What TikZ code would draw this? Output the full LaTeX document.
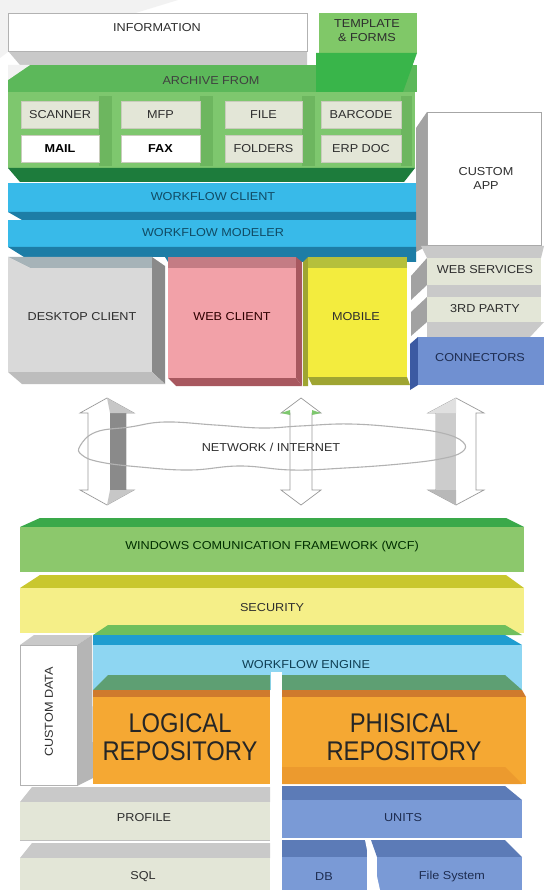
\documentclass[tikz,border=0pt]{standalone}
\usepackage{fontspec}
\setmainfont{Liberation Sans}
\newfontfamily\wf[FakeStretch=1.1]{Liberation Sans}
\newfontfamily\wfn[FakeStretch=0.88]{Liberation Sans}
\definecolor{txt}{HTML}{2E2E2E}
\definecolor{grA}{HTML}{5CB85A}
\definecolor{grB}{HTML}{7EC76E}
\definecolor{grC}{HTML}{1D7C3C}
\definecolor{grS}{HTML}{6DB65F}
\definecolor{tmA}{HTML}{80C868}
\definecolor{tmB}{HTML}{39B54A}
\definecolor{beige}{HTML}{E3E6D7}
\definecolor{beigeL}{HTML}{C9CCBC}
\definecolor{cyA}{HTML}{38BAE9}
\definecolor{cyB}{HTML}{1D7DA6}
\definecolor{dkA}{HTML}{D9D9D9}
\definecolor{dkT}{HTML}{A6B3B8}
\definecolor{dkS}{HTML}{8A8A8A}
\definecolor{dkB}{HTML}{BDBDBD}
\definecolor{wbA}{HTML}{F2A1A8}
\definecolor{wbT}{HTML}{C47C84}
\definecolor{wbS}{HTML}{A8585F}
\definecolor{mbA}{HTML}{F3EC3E}
\definecolor{mbT}{HTML}{B5C03C}
\definecolor{mbS}{HTML}{9FA532}
\definecolor{gyT}{HTML}{C9C9C9}
\definecolor{gyS}{HTML}{A2A2A2}
\definecolor{cnA}{HTML}{7090D1}
\definecolor{cnS}{HTML}{3C5AA2}
\definecolor{wcT}{HTML}{3AA94A}
\definecolor{wcA}{HTML}{8CC86C}
\definecolor{scT}{HTML}{C9C72E}
\definecolor{scA}{HTML}{F5EF88}
\definecolor{stG}{HTML}{6FBF5C}
\definecolor{enT}{HTML}{1E9DD0}
\definecolor{enA}{HTML}{8ED6F2}
\definecolor{lgT}{HTML}{5E9F73}
\definecolor{orD}{HTML}{CF7A2D}
\definecolor{orA}{HTML}{F5A833}
\definecolor{orM}{HTML}{EC9A2E}
\definecolor{unT}{HTML}{5C7BB7}
\definecolor{unA}{HTML}{7A9AD6}
\definecolor{arr}{HTML}{9A9A9A}
\begin{document}
\begin{tikzpicture}[x=1pt,y=-1pt,
  lbl/.style={font=\wf\fontsize{11.5}{14}\selectfont, text=txt, inner sep=0pt, align=center},
  big/.style={font=\wfn\fontsize{27}{28.5}\selectfont, text=black!85, inner sep=0pt, align=center},
  box/.style={fill=beige, draw=beigeL, line width=0.6pt}]
\fill[white] (0,0) rectangle (544,890);
\path[use as bounding box] (0,0) rectangle (544,890);
% faint background corner
\fill[black!5] (0,0) -- (178,0) -- (8,52) -- (0,58) -- cycle;

% ---------------- top: information / template / archive
\fill[gyT] (8,51) -- (307,51) -- (307,65) -- (20,65) -- cycle;
\node[draw=black!30, fill=white, line width=0.6pt, minimum width=299pt, minimum height=38pt, inner sep=0pt] (infobox) at (157.5,32) {};
\node[lbl] (info) at (157,28) {INFORMATION};

\fill[grA] (8,65) -- (417,65) -- (417,92) -- (8,92) -- cycle;
\fill[black!5] (8,65) -- (30,65) -- (8,80) -- cycle;
\fill[grB] (8,92) rectangle (415,168);
\fill[tmA] (319,13) rectangle (417,53);
\fill[tmB] (316,53) -- (417,53) -- (403,92) -- (316,92) -- cycle;
\node[lbl] (tmpl) at (367,31) {TEMPLATE\\\& FORMS};
\node[lbl, text=black!75] (archive) at (211,81) {ARCHIVE FROM};
\foreach \xa/\xb in {99/112, 200/213, 302/315, 401/412}{
  \fill[grS] (\xa,96) rectangle (\xb,166);
}
\fill[grC] (8,168) -- (415,168) -- (404,182) -- (20,182) -- cycle;

\node[box, minimum width=77pt, minimum height=27pt] (scanner) at (60,114.5) {};
\node[box, minimum width=79pt, minimum height=27pt] (mfp) at (160.5,114.5) {};
\node[box, minimum width=77pt, minimum height=27pt] (file) at (263.5,114.5) {};
\node[box, minimum width=80pt, minimum height=27pt] (barcode) at (361,114.5) {};
\node[box, fill=white, minimum width=78pt, minimum height=27pt] (mail) at (60,148.5) {};
\node[box, fill=white, minimum width=79pt, minimum height=27pt] (fax) at (160.5,148.5) {};
\node[box, minimum width=77pt, minimum height=27pt] (folders) at (263.5,148.5) {};
\node[box, minimum width=80pt, minimum height=27pt] (erp) at (361,148.5) {};
\node[lbl] at (scanner) {SCANNER};
\node[lbl] at (mfp) {MFP};
\node[lbl] at (file) {FILE};
\node[lbl] at (barcode) {BARCODE};
\node[lbl, font=\wf\bfseries\fontsize{11.5}{13}\selectfont, text=black] at (mail) {MAIL};
\node[lbl, font=\wf\bfseries\fontsize{11.5}{13}\selectfont, text=black] at (fax) {FAX};
\node[lbl] at (folders) {FOLDERS};
\node[lbl] at (erp) {ERP DOC};

% custom app
\fill[gyS] (416,128) -- (427,112) -- (427,246) -- (416,252) -- cycle;
\node[draw=black!35, fill=white, line width=0.6pt, minimum width=114pt, minimum height=133pt, inner sep=0pt] (capp) at (484,178.5) {};
\node[lbl] (capptxt) at (486,178) {CUSTOM\\APP};

% workflow bands
\fill[cyA] (8,183) rectangle (416,212);
\fill[cyB] (8,212) -- (416,212) -- (416,220) -- (22,220) -- cycle;
\fill[cyA] (8,220) rectangle (416,247);
\fill[cyB] (8,247) -- (416,247) -- (416,262) -- (168,262) -- (165,257) -- (24,257) -- cycle;
\node[lbl, text=cyB!60!black] (wfc) at (213,197) {WORKFLOW CLIENT};
\node[lbl, text=cyB!60!black] (wfm) at (213,233) {WORKFLOW MODELER};

% desktop client
\fill[dkT] (8,257) -- (152,257) -- (152,268) -- (30,268) -- cycle;
\fill[dkA] (8,268) rectangle (152,372);
\fill[dkA] (8,257) -- (30,268) -- (8,268) -- cycle;
\fill[dkS] (152,257) -- (165,266) -- (165,384) -- (152,372) -- cycle;
\fill[dkB] (8,372) -- (152,372) -- (165,384) -- (22,384) -- cycle;
\node[lbl] (desk) at (82,317) {DESKTOP CLIENT};

% web client
\fill[wbT] (168,257) -- (296,257) -- (296,268) -- (168,268) -- cycle;
\fill[wbA] (168,268) rectangle (296,378);
\fill[wbS] (296,257) -- (302,262) -- (302,386) -- (296,378) -- cycle;
\fill[wbS] (168,378) -- (296,378) -- (302,386) -- (176,386) -- cycle;
\node[lbl, text=black!70!red!60!black] (web) at (232,317) {WEB CLIENT};

% mobile
\fill[mbS] (303,262) -- (308,257) -- (308,386) -- (303,386) -- cycle;
\fill[mbT] (308,257) -- (407,257) -- (407,268) -- (308,268) -- cycle;
\fill[mbA] (308,268) rectangle (407,377);
\fill[mbS] (308,377) -- (407,377) -- (410,385) -- (312,385) -- cycle;
\node[lbl] (mobile) at (356,317) {MOBILE};

% web services / 3rd party / connectors
\fill[gyT] (421,246) -- (544,246) -- (541,258) -- (427,258) -- cycle;
\fill[gyS] (427,258) -- (427,285) -- (411,300) -- (411,276) -- cycle;
\fill[beige] (427,258) rectangle (541,285);
\fill[gyT] (427,285) rectangle (541,297);
\fill[gyS] (427,297) -- (427,322) -- (411,336) -- (411,312) -- cycle;
\fill[beige] (427,297) rectangle (541,322);
\fill[gyT] (427,322) -- (544,322) -- (530,337) -- (427,337) -- cycle;
\fill[cnS] (410,344) -- (418,337) -- (418,385) -- (410,390) -- cycle;
\fill[cnA] (418,337) rectangle (544,385);
\node[lbl] (ws) at (485,270) {WEB SERVICES};
\node[lbl] (third) at (485,309) {3RD PARTY};
\node[lbl, text=cnS!50!black] (conn) at (480,358) {CONNECTORS};

% ---------------- network
% left arrow
\filldraw[fill=white, draw=arr, line width=0.7pt] (107,398) -- (134,413) -- (126,413) -- (126,490) -- (134,490) -- (107,505) -- (80,490) -- (88,490) -- (88,413) -- (80,413) -- cycle;
\fill[dkS] (110,413) rectangle (126,490);
\fill[black!22] (107,398) -- (134,413) -- (110,413) -- cycle;
\fill[black!22] (107,505) -- (134,490) -- (110,490) -- cycle;
% middle arrow
\filldraw[fill=white, draw=arr, line width=0.7pt] (301,398) -- (321,413) -- (312,413) -- (312,490) -- (321,490) -- (301,505) -- (281,490) -- (290,490) -- (290,413) -- (281,413) -- cycle;
\fill[grB] (312,410) -- (321,413) -- (312,415) -- cycle;
\fill[grB] (281,413) -- (290,410) -- (290,415) -- cycle;
% right arrow
\filldraw[fill=white, draw=arr, line width=0.7pt] (456,398) -- (484,413) -- (476,413) -- (476,490) -- (484,490) -- (456,505) -- (428,490) -- (436,490) -- (436,413) -- (428,413) -- cycle;
\fill[black!20] (436,413) rectangle (456,490);
\fill[black!12] (456,398) -- (428,413) -- (456,413) -- cycle;
\fill[black!28] (456,505) -- (428,490) -- (456,490) -- cycle;
% cloud
\draw[black!30, line width=1.1pt] plot[smooth cycle, tension=0.7] coordinates {(80,446) (96,432) (130,427) (165,422) (215,425) (262,428) (300,426) (350,424) (405,428) (442,433) (463,442) (462,452) (440,459) (400,464) (345,468) (292,470) (240,466) (190,470) (140,467) (100,462) (82,455)};
\node[lbl] (net) at (271,447) {NETWORK / INTERNET};

% ---------------- bottom stack
\fill[wcT] (20,527) -- (40,518) -- (506,518) -- (524,527) -- cycle;
\fill[wcA] (20,527) rectangle (524,572);
\node[lbl, text=black!55!green!40!black] (wcf) at (272,547) {WINDOWS COMUNICATION FRAMEWORK (WCF)};

\fill[scT] (20,588) -- (40,575) -- (506,575) -- (524,588) -- cycle;
\fill[scA] (20,588) rectangle (524,633);
\fill[stG] (93,635) -- (108,625) -- (505,625) -- (522,635) -- cycle;
\node[lbl] (sec) at (272,608) {SECURITY};

% custom data
\fill[gyT] (20,645) -- (34,635) -- (92,635) -- (77,645) -- cycle;
\fill[gyS!80] (77,645) -- (92,635) -- (93,778) -- (77,786) -- cycle;
\node[draw=black!30, fill=white, line width=0.6pt, minimum width=57pt, minimum height=140pt, inner sep=0pt] (cdata) at (48.5,715) {};
\node[lbl, rotate=90] (cdtxt) at (49,712) {CUSTOM DATA};

% workflow engine
\fill[enT] (93,635) -- (505,635) -- (522,645) -- (93,645) -- cycle;
\fill[enA] (93,645) rectangle (522,690);
\node[lbl, text=cyB!50!black] (eng) at (306,665) {WORKFLOW ENGINE};

% gap
\fill[white] (271,672) rectangle (282,890);

% logical repository
\fill[lgT] (93,690) -- (108,675) -- (270,675) -- (270,690) -- cycle;
\fill[orD] (93,690) rectangle (270,697);
\fill[orA] (93,697) rectangle (270,784);
\node[big] (logical) at (180,737) {LOGICAL\\REPOSITORY};

% physical repository
\fill[lgT] (282,675) -- (505,675) -- (522,690) -- (282,690) -- cycle;
\fill[orD] (282,690) -- (522,690) -- (526,697) -- (282,697) -- cycle;
\fill[orA] (282,697) rectangle (526,784);
\fill[orM] (282,767) -- (505,767) -- (522,784) -- (282,784) -- cycle;
\node[big] (phys) at (404,737) {PHISICAL\\REPOSITORY};

% profile / sql
\fill[gyT] (20,802) -- (32,787) -- (270,787) -- (270,802) -- cycle;
\fill[beige] (20,802) rectangle (270,840);
\draw[black!25, line width=0.5pt] (20,840) -- (270,840);
\fill[gyT] (20,858) -- (32,843) -- (270,843) -- (270,858) -- cycle;
\fill[beige] (20,858) rectangle (270,890);
\node[lbl] (profile) at (144,818) {PROFILE};
\node[lbl] (sql) at (143,877) {SQL};

% units / db / file system
\fill[unT] (282,786) -- (505,786) -- (522,800) -- (282,800) -- cycle;
\fill[unA] (282,800) rectangle (522,838);
\fill[unT] (282,840) rectangle (367,857);
\fill[unA] (282,857) rectangle (367,890);
\fill[unT] (371,840) -- (505,840) -- (522,857) -- (377,857) -- cycle;
\fill[unA] (377,857) rectangle (522,890);
\fill[white] (365,840) -- (369,840) -- (380,890) -- (375,890) -- cycle;
\node[lbl, text=cnS!50!black] (units) at (403,818) {UNITS};
\node[lbl, text=cnS!50!black] (db) at (324,877) {DB};
\node[lbl, text=cnS!50!black] (fs) at (452,877) {File System};
\end{tikzpicture}
\end{document}
